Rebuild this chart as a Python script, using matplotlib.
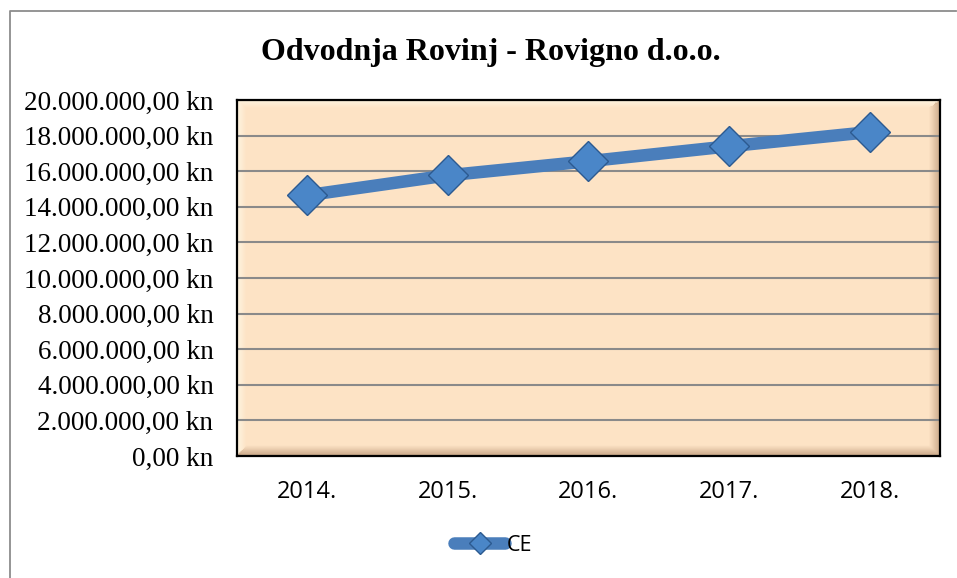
import matplotlib.pyplot as plt
import numpy as np
from matplotlib.lines import Line2D
from matplotlib.ticker import FuncFormatter, MultipleLocator

years = ["2014.", "2015.", "2016.", "2017.", "2018."]
ce = [14650000, 15770000, 16560000, 17400000, 18200000]

LINE = "#4A7EBB"
FILL = "#FDE3C5"


def kn(v, _pos):
    s = f"{v:,.2f}".replace(",", "X").replace(".", ",").replace("X", ".")
    return f"{s} kn"


fig = plt.figure(figsize=(9.57, 5.78), dpi=100)
# chart frame is cropped: only the top and left edges show
fig.lines.append(Line2D([0.0105, 0.0105, 0.999], [0.0, 0.981, 0.981], transform=fig.transFigure,
                        color="#8c8c8c", lw=1.3))

ax = fig.add_axes([0.2476, 0.211, 0.7346, 0.616])
ax.set_facecolor(FILL)

# thin bevel: light on top/left, darker brown on right/bottom
yy, xx = np.mgrid[0:1:300j, 0:1:600j]
rgba = np.zeros((300, 600, 4))
dark = np.clip(1 - np.minimum((1 - xx) * 60, yy * 35), 0, 1)
light = np.clip(1 - np.minimum(xx * 80, (1 - yy) * 40), 0, 1)
rgba[..., 0] = np.where(dark > light, 0.55, 1.0)
rgba[..., 1] = np.where(dark > light, 0.38, 1.0)
rgba[..., 2] = np.where(dark > light, 0.25, 0.95)
rgba[..., 3] = np.maximum(dark * 0.45, light * 0.6)
ax.imshow(rgba, extent=(-0.5, 4.5, 0, 20e6), aspect="auto", origin="lower", zorder=0.5)

x = np.arange(len(years))
ax.plot(x, ce, color=LINE, lw=9, solid_capstyle="round", zorder=3, label="CE")
ax.plot(x, ce, ls="none", marker="D", ms=20, mfc="#4A86C8", mec="#2C5A90", mew=1.0, zorder=4)

ax.set_xlim(-0.5, 4.5)
ax.set_ylim(0, 20e6)
ax.yaxis.set_major_locator(MultipleLocator(2e6))
ax.yaxis.set_major_formatter(FuncFormatter(kn))
ax.grid(axis="y", color="#8a8a8a", lw=1.5, zorder=1)
ax.set_axisbelow(True)
ax.set_xticks(x)
ax.set_xticklabels(years, family="Open Sans", fontsize=17)
ax.tick_params(axis="x", length=0, pad=17)
ax.tick_params(axis="y", length=0, pad=17)
for lab in ax.get_yticklabels():
    lab.set_family("Liberation Serif")
    lab.set_fontsize(19.5)
for sp in ax.spines.values():
    sp.set_color("black")
    sp.set_linewidth(1.6)

fig.text(0.513, 0.91, "Odvodnja Rovinj - Rovigno d.o.o.", ha="center", va="center",
         family="Liberation Serif", fontweight="bold", fontsize=23)

h, = ax.plot([], [], color=LINE, lw=9, solid_capstyle="round", marker="D", ms=11,
             mfc="#4A86C8", mec="#2C5A90")
fig.legend([h], ["CE"], loc="center", bbox_to_anchor=(0.515, 0.057), frameon=False,
           prop={"family": "Open Sans", "size": 15.5}, handlelength=2.4, handletextpad=0.05)

fig.savefig("out.png", dpi=100)
